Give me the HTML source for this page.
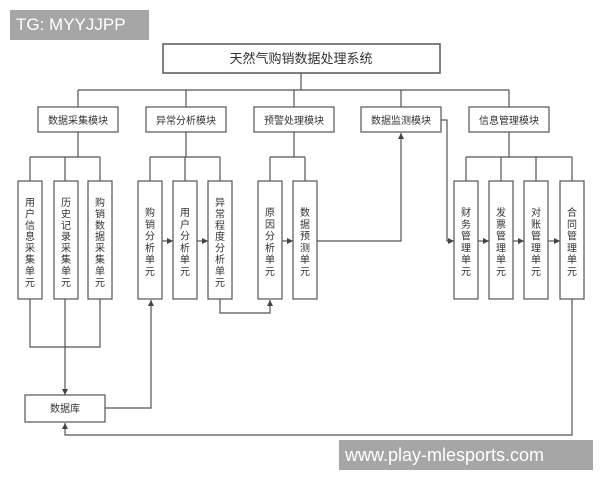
<!DOCTYPE html>
<html><head><meta charset="utf-8"><style>
body{margin:0;background:#fff;width:600px;height:480px;overflow:hidden;position:relative;font-family:"Liberation Sans","Noto Sans CJK SC",sans-serif}
.wm{position:absolute;background:#a6a6a6;color:#fff;font-size:17px;line-height:30px;padding-left:6px}
</style></head><body>
<svg width="600" height="480" style="position:absolute;left:0;top:0" font-family="Liberation Sans, Noto Sans CJK SC, sans-serif">
<defs><marker id="a" markerWidth="6" markerHeight="6" refX="5" refY="3" orient="auto"><path d="M0,0.5 L5,3 L0,5.5z" fill="#444"/></marker></defs>
<g stroke="#555" stroke-width="1.2" fill="none">
<rect x="163" y="44" width="277" height="29" stroke-width="1.5"/>
<path d="M301 73V90M78 90H509M78 90V107M186 90V107M294 90V107M401 90V107M509 90V107"/>
<rect x="38" y="107" width="80" height="25"/><rect x="146" y="107" width="80" height="25"/><rect x="254" y="107" width="80" height="25"/><rect x="361" y="107" width="80" height="25"/><rect x="469" y="107" width="80" height="25"/>
<path d="M78 132V157M30 157H100M30 157V181M65 157V181M100 157V181"/>
<path d="M186 132V157M150 157H220M150 157V181M185 157V181M220 157V181"/>
<path d="M294 132V157M270 157H305M270 157V181M305 157V181"/>
<path d="M509 132V157M466 157H572M466 157V181M501 157V181M536 157V181M572 157V181"/>
<rect x="18" y="181" width="24" height="118"/><rect x="54" y="181" width="24" height="118"/><rect x="88" y="181" width="24" height="118"/>
<rect x="138" y="181" width="24" height="118"/><rect x="173" y="181" width="24" height="118"/><rect x="208" y="181" width="24" height="118"/>
<rect x="258" y="181" width="24" height="118"/><rect x="293" y="181" width="24" height="118"/>
<rect x="454" y="181" width="24" height="118"/><rect x="489" y="181" width="24" height="118"/><rect x="524" y="181" width="24" height="118"/><rect x="560" y="181" width="24" height="118"/>
<g marker-end="url(#a)">
<path d="M162 241H173"/><path d="M197 241H208"/><path d="M282 241H293"/>
<path d="M478 241H489"/><path d="M513 241H524"/><path d="M548 241H560"/>
<path d="M317 241H401V133"/>
<path d="M441 120H447V241H454"/>
<path d="M65 299V395"/>
<path d="M105 408H151V300"/>
<path d="M220 299V313H270V300"/>
<path d="M572 299V435H65V423"/>
</g>
<path d="M30 299V347H100V299"/>
<rect x="25" y="395" width="80" height="27"/>
</g>
<g fill="#333" font-size="10" text-anchor="middle">
<text x="301" y="63" font-size="13">天然气购销数据处理系统</text>
<text x="78" y="124">数据采集模块</text><text x="186" y="124">异常分析模块</text><text x="294" y="124">预警处理模块</text><text x="401" y="124">数据监测模块</text><text x="509" y="124">信息管理模块</text>
<text x="65" y="412">数据库</text>
</g>
<g fill="#333" font-size="10" text-anchor="middle">
<text x="30" y="206"><tspan x="30">用</tspan><tspan x="30" dy="11.4">户</tspan><tspan x="30" dy="11.4">信</tspan><tspan x="30" dy="11.4">息</tspan><tspan x="30" dy="11.4">采</tspan><tspan x="30" dy="11.4">集</tspan><tspan x="30" dy="11.4">单</tspan><tspan x="30" dy="11.4">元</tspan></text>
<text x="66" y="206"><tspan x="66">历</tspan><tspan x="66" dy="11.4">史</tspan><tspan x="66" dy="11.4">记</tspan><tspan x="66" dy="11.4">录</tspan><tspan x="66" dy="11.4">采</tspan><tspan x="66" dy="11.4">集</tspan><tspan x="66" dy="11.4">单</tspan><tspan x="66" dy="11.4">元</tspan></text>
<text x="100" y="206"><tspan x="100">购</tspan><tspan x="100" dy="11.4">销</tspan><tspan x="100" dy="11.4">数</tspan><tspan x="100" dy="11.4">据</tspan><tspan x="100" dy="11.4">采</tspan><tspan x="100" dy="11.4">集</tspan><tspan x="100" dy="11.4">单</tspan><tspan x="100" dy="11.4">元</tspan></text>
<text x="150" y="216"><tspan x="150">购</tspan><tspan x="150" dy="11.8">销</tspan><tspan x="150" dy="11.8">分</tspan><tspan x="150" dy="11.8">析</tspan><tspan x="150" dy="11.8">单</tspan><tspan x="150" dy="11.8">元</tspan></text>
<text x="185" y="216"><tspan x="185">用</tspan><tspan x="185" dy="11.8">户</tspan><tspan x="185" dy="11.8">分</tspan><tspan x="185" dy="11.8">析</tspan><tspan x="185" dy="11.8">单</tspan><tspan x="185" dy="11.8">元</tspan></text>
<text x="220" y="206"><tspan x="220">异</tspan><tspan x="220" dy="11.4">常</tspan><tspan x="220" dy="11.4">程</tspan><tspan x="220" dy="11.4">度</tspan><tspan x="220" dy="11.4">分</tspan><tspan x="220" dy="11.4">析</tspan><tspan x="220" dy="11.4">单</tspan><tspan x="220" dy="11.4">元</tspan></text>
<text x="270" y="216"><tspan x="270">原</tspan><tspan x="270" dy="11.8">因</tspan><tspan x="270" dy="11.8">分</tspan><tspan x="270" dy="11.8">析</tspan><tspan x="270" dy="11.8">单</tspan><tspan x="270" dy="11.8">元</tspan></text>
<text x="305" y="216"><tspan x="305">数</tspan><tspan x="305" dy="11.8">据</tspan><tspan x="305" dy="11.8">预</tspan><tspan x="305" dy="11.8">测</tspan><tspan x="305" dy="11.8">单</tspan><tspan x="305" dy="11.8">元</tspan></text>
<text x="466" y="216"><tspan x="466">财</tspan><tspan x="466" dy="11.8">务</tspan><tspan x="466" dy="11.8">管</tspan><tspan x="466" dy="11.8">理</tspan><tspan x="466" dy="11.8">单</tspan><tspan x="466" dy="11.8">元</tspan></text>
<text x="501" y="216"><tspan x="501">发</tspan><tspan x="501" dy="11.8">票</tspan><tspan x="501" dy="11.8">管</tspan><tspan x="501" dy="11.8">理</tspan><tspan x="501" dy="11.8">单</tspan><tspan x="501" dy="11.8">元</tspan></text>
<text x="536" y="216"><tspan x="536">对</tspan><tspan x="536" dy="11.8">账</tspan><tspan x="536" dy="11.8">管</tspan><tspan x="536" dy="11.8">理</tspan><tspan x="536" dy="11.8">单</tspan><tspan x="536" dy="11.8">元</tspan></text>
<text x="572" y="216"><tspan x="572">合</tspan><tspan x="572" dy="11.8">同</tspan><tspan x="572" dy="11.8">管</tspan><tspan x="572" dy="11.8">理</tspan><tspan x="572" dy="11.8">单</tspan><tspan x="572" dy="11.8">元</tspan></text>
</g>
</svg>
<div class="wm" style="left:10px;top:10px;width:133px;height:30px">TG: MYYJJPP</div>
<div class="wm" style="left:339px;top:440px;width:248px;height:30px;font-size:18px">www.play-mlesports.com</div>
</body></html>
